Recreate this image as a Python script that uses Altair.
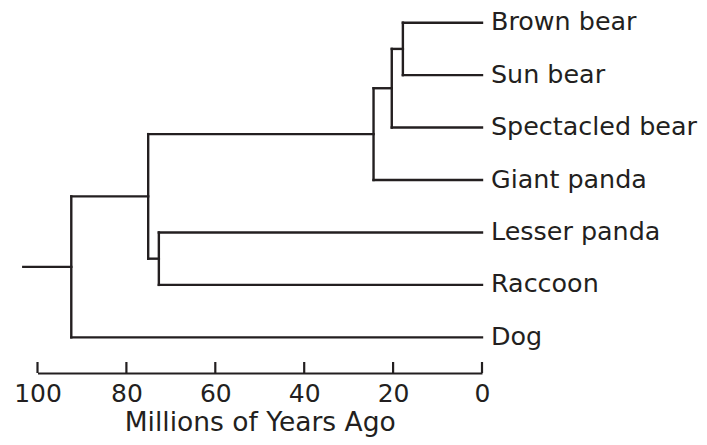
import altair as alt
import pandas as pd

# Leaves (top to bottom)
leaves = ["Brown bear", "Sun bear", "Spectacled bear", "Giant panda",
          "Lesser panda", "Raccoon", "Dog"]

# Internal nodes: name, age (millions of years ago), children
node_names = ["BrownSun", "BearsCore", "Bears", "Procyonids", "Arctoids", "Root"]
node_ages = [17.8, 20.3, 24.4, 72.7, 75.1, 92.4]
node_children = [
    ["Brown bear", "Sun bear"],
    ["BrownSun", "Spectacled bear"],
    ["BearsCore", "Giant panda"],
    ["Lesser panda", "Raccoon"],
    ["Bears", "Procyonids"],
    ["Arctoids", "Dog"],
]
root_stem_age = 103.2

tick_values = [100, 80, 60, 40, 20, 0]

# ---- build tree segments from the lists above ----
age = {name: 0.0 for name in leaves}
ypos = {name: float(i) for i, name in enumerate(leaves)}
segs = []
for name, a, ch in zip(node_names, node_ages, node_children):
    age[name] = a
    ys = [ypos[c] for c in ch]
    ypos[name] = sum(ys) / len(ys)
    for c in ch:
        segs.append({"x": age[c], "x2": a, "y": ypos[c], "y2": ypos[c]})
    segs.append({"x": a, "x2": a, "y": min(ys), "y2": max(ys)})
root = node_names[-1]
segs.append({"x": age[root], "x2": root_stem_age, "y": ypos[root], "y2": ypos[root]})

seg_df = pd.DataFrame(segs)
leaf_df = pd.DataFrame({"name": leaves, "age": [0.0] * len(leaves),
                        "y": list(range(len(leaves)))})
tick_df = pd.DataFrame({"t": tick_values})

W, H = 444.5, 365
INK = "#231f20"
FONT = "DejaVu Sans"

xscale = alt.Scale(domain=[100, 0], nice=False)
yscale = alt.Scale(domain=[6.68, -0.28], nice=False, zero=False)

lines = alt.Chart(seg_df).mark_rule(strokeWidth=2.4, color=INK, strokeCap="square").encode(
    x=alt.X("x:Q", scale=xscale,
            axis=alt.Axis(values=tick_values, ticks=False, grid=False,
                          domainColor=INK, domainWidth=2.2,
                          labelFont=FONT, labelFontSize=25, labelColor=INK,
                          labelPadding=8, labelFlush=False,
                          title="Millions of Years Ago", titleFont=FONT,
                          titleFontSize=26.5, titleFontWeight="normal",
                          titleColor=INK, titlePadding=3)),
    x2="x2:Q",
    y=alt.Y("y:Q", scale=yscale, axis=None),
    y2="y2:Q",
)

ticks = alt.Chart(tick_df).mark_rule(strokeWidth=2.2, color=INK).encode(
    x=alt.X("t:Q", scale=xscale),
    y=alt.value(H - 11),
    y2=alt.value(H),
)

labels = alt.Chart(leaf_df).mark_text(
    align="left", baseline="middle", dx=9, dy=-0.5, fontSize=25.4, font=FONT, color=INK
).encode(
    x=alt.X("age:Q", scale=xscale),
    y=alt.Y("y:Q", scale=yscale),
    text="name:N",
)

chart = alt.layer(lines, ticks, labels).properties(
    width=W, height=H,
    autosize=alt.AutoSizeParams(type="none"),
    padding={"left": 29.5, "top": 0, "right": 217, "bottom": 64},
).configure(background="white").configure_view(strokeWidth=0, stroke="transparent")

chart.save("out.html", embed_options={"renderer": "svg", "actions": False})
